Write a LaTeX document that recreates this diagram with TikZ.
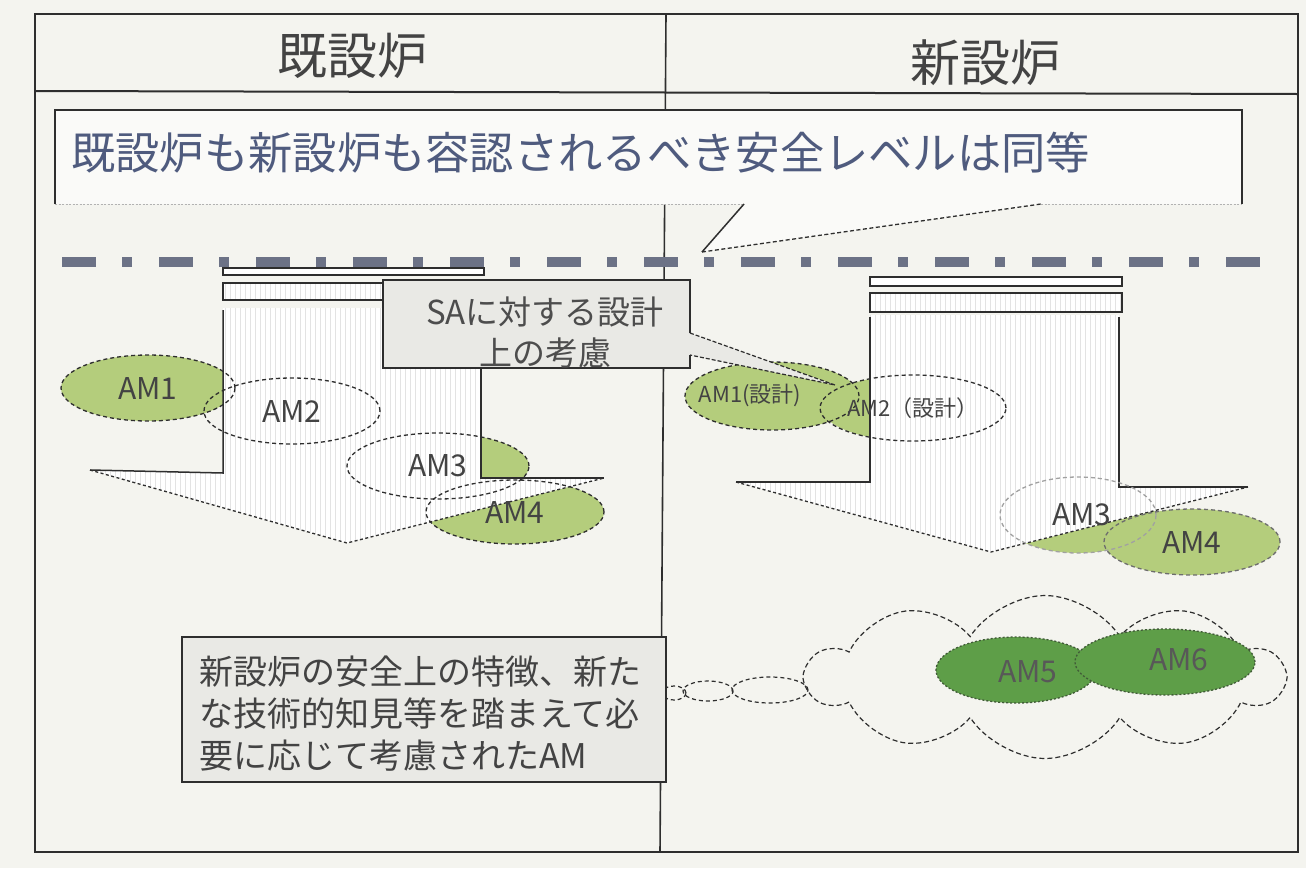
\documentclass[tikz,border=0pt]{standalone}
\usepackage{fontspec}
\setmainfont{Noto Sans CJK JP}
\usetikzlibrary{shapes.geometric,shapes.symbols,patterns.meta}
\definecolor{bg}{HTML}{F4F4EF}
\definecolor{lgreen}{HTML}{B4CD7C}
\definecolor{dgreen}{HTML}{5E9E48}
\definecolor{bluegray}{HTML}{4F5B7E}
\definecolor{dashcol}{HTML}{6C7286}
\definecolor{boxfill}{HTML}{E9E9E5}
\definecolor{ink}{HTML}{2E2E2E}
\newcommand{\amfont}{\fontsize{30}{34}\selectfont}
\newcommand{\amsmall}{\fontsize{22}{26}\selectfont}
\tikzset{
  amline/.style={ellipse, draw=ink, dash pattern=on 4pt off 3pt, line width=1.3pt, inner sep=0pt, text=ink!90},
  hatch/.style={preaction={fill=white}, pattern={Lines[angle=90,distance=5pt,line width=0.8pt]}, pattern color=gray!22},
  frameline/.style={draw=ink, line width=2.5pt},
  solidedge/.style={draw=ink, line width=1.5pt},
  dotedge/.style={draw=ink, line width=1.3pt, dash pattern=on 3pt off 2.5pt},
  bubble/.style={ellipse, draw=ink, dash pattern=on 4pt off 3pt, line width=1.2pt, inner sep=0pt},
}
\begin{document}
\begin{tikzpicture}[x=1pt,y=-1pt]
\useasboundingbox[fill=bg] (0,0) rectangle (1306,868);

% outer frame, header line, divider
\draw[frameline] (35,14) rectangle (1298,852);
\draw[ink, line width=2pt] (35,91) -- (1298,94);
\draw[ink, line width=1.6pt] (666,14) -- (660,852);

% headers
\node[font=\fontsize{50}{56}\selectfont, text=ink!90] (hdrL) at (352,56) {既設炉};
\node[font=\fontsize{50}{56}\selectfont, text=ink!90] (hdrR) at (985,63) {新設炉};

% banner callout
\fill[white!55!bg] (55,110) -- (1242,110) -- (1242,204) -- (1041,204) -- (702,252) -- (744,204) -- (55,204) -- cycle;
\draw[ink, line width=1.6pt] (55,204) -- (55,110) -- (1242,110) -- (1242,204);
\draw[gray!60, line width=1pt, dash pattern=on 2pt off 1.5pt] (55,204) -- (744,204) (1041,204) -- (1242,204);
\draw[ink, line width=1.5pt] (744,204) -- (702,252);
\draw[ink, line width=1.3pt, dash pattern=on 4pt off 2.5pt] (702,252) -- (1041,204);
\node[anchor=west, inner sep=0pt, font=\fontsize{44.3}{50}\selectfont, text=bluegray] (bannerText) at (71,153) {既設炉も新設炉も容認されるべき安全レベルは同等};

% dash-dot level line
\draw[dashcol, line width=10pt, dash pattern=on 34pt off 26pt on 10pt off 27pt] (62,262) -- (1261,262);

% green underlays
\fill[lgreen] (148,388) ellipse [x radius=87pt, y radius=33pt];
\fill[lgreen] (438,466) ellipse [x radius=91pt, y radius=33pt];
\fill[lgreen] (515,512) ellipse [x radius=89pt, y radius=32pt];
\fill[lgreen] (913,408) ellipse [x radius=91pt, y radius=33pt];
\fill[lgreen] (772,396) ellipse [x radius=87pt, y radius=34pt];
\begin{scope}
  \clip (960,560) -- (1280,479) -- (1290,620) -- (960,620) -- cycle;
  \fill[lgreen] (1078,515) ellipse [x radius=78pt, y radius=38pt];
\end{scope}
\fill[lgreen] (1192,542) ellipse [x radius=88pt, y radius=33pt];

% left arrow
\path[hatch] (223,308) -- (223,473) -- (90,470) -- (347,543) -- (604,478) -- (481,478) -- (481,308) -- cycle;
\draw[solidedge] (223,310) -- (223,473) -- (90,470);
\draw[solidedge] (481,310) -- (481,478) -- (604,478);
\draw[dotedge] (90,470) -- (347,543) -- (604,478);
\draw[solidedge, fill=white] (223,268) rectangle (484,275);
\draw[solidedge, hatch] (223,283) rectangle (484,300);

% right arrow
\path[hatch] (870,315) -- (870,482) -- (736,482) -- (991,552) -- (1248,487) -- (1119,487) -- (1119,315) -- cycle;
\draw[solidedge] (870,317) -- (870,482) -- (736,482);
\draw[solidedge] (1119,317) -- (1119,487) -- (1248,487);
\draw[dotedge] (736,482) -- (991,552) -- (1248,487);
\draw[solidedge, fill=white] (870,277) rectangle (1122,286);
\draw[solidedge, hatch] (870,293) rectangle (1122,312);

% ellipse outlines and labels (left)
\node[amline, minimum width=174pt, minimum height=66pt, font=\amfont] (am1L) at (148,388) {AM1};
\node[amline, minimum width=176pt, minimum height=66pt, font=\amfont] (am2L) at (292,411) {AM2};
\node[amline, minimum width=182pt, minimum height=66pt, font=\amfont] (am3L) at (438,466) {AM3};
\node[amline, minimum width=178pt, minimum height=64pt, font=\amfont] (am4L) at (515,512) {AM4};

% ellipse outlines and labels (right)
\node[amline, minimum width=174pt, minimum height=68pt,
      label={[font=\amsmall, text=ink!90, xshift=-22pt, yshift=1pt]center:AM1(設計)}] (am1R) at (772,396) {};
\node[amline, minimum width=182pt, minimum height=66pt, font=\amsmall] (am2R) at (913,408) {AM2（設計）};
\node[amline, draw=ink!45, minimum width=156pt, minimum height=76pt,
      label={[font=\amfont, text=ink!90, xshift=4pt]center:AM3}] (am3R) at (1078,515) {};
\node[amline, draw=ink!70, minimum width=176pt, minimum height=66pt, font=\amfont] (am4R) at (1192,542) {AM4};

% SA callout
\fill[boxfill] (383,280) -- (690,280) -- (690,333) -- (835,385) -- (690,355) -- (690,368) -- (383,368) -- cycle;
\draw[solidedge] (690,333) -- (690,280) -- (383,280) -- (383,368) -- (690,368) -- (690,355);
\draw[ink, line width=1.2pt, dash pattern=on 4pt off 2pt] (690,333) -- (835,385) -- (690,355);
\node[align=center, font=\fontsize{33}{41}\selectfont, text=ink!85] (saText) at (545,333) {SAに対する設計\\上の考慮};

% thought bubbles
\node[bubble, minimum width=24pt, minimum height=14pt] (bub1) at (674,693) {};
\node[bubble, minimum width=50pt, minimum height=20pt] (bub2) at (708,691) {};
\node[bubble, minimum width=76pt, minimum height=26pt] (bub3) at (770,690) {};

% bottom-left note box
\node[draw=ink, line width=1.6pt, fill=boxfill, minimum width=484pt, minimum height=145pt, inner sep=0pt] (noteBox) at (424,709.5) {};
\node[anchor=west, align=left, inner sep=0pt, font=\fontsize{34}{42}\selectfont, text=ink!90] (noteText) at (199,714) {新設炉の安全上の特徴、新た\\な技術的知見等を踏まえて必\\要に応じて考慮されたAM};

% cloud with AM5 / AM6
\node[cloud, cloud puffs=10, cloud puff arc=115, aspect=2.9, draw=ink, dash pattern=on 5pt off 3pt, line width=1.2pt, minimum width=475pt, minimum height=163pt] (cloudN) at (1045,677) {};
\node[amline, fill=dgreen, draw=ink!60!dgreen, dash pattern=on 2pt off 2pt, minimum width=160pt, minimum height=66pt,
      label={[font=\amfont, text=ink!80, xshift=12pt, yshift=-2pt]center:AM5}] (am5) at (1016,670) {};
\node[amline, fill=dgreen, draw=ink!60!dgreen, dash pattern=on 2pt off 2pt, minimum width=180pt, minimum height=66pt,
      label={[font=\amfont, text=ink!80, xshift=14pt, yshift=2pt]center:AM6}] (am6) at (1165,662) {};
\end{tikzpicture}
\end{document}
